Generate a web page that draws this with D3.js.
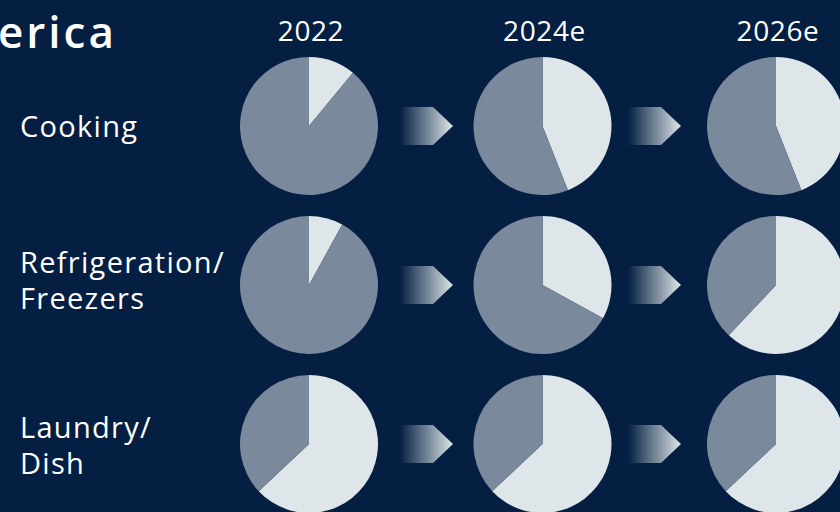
<!DOCTYPE html>
<html>
<head>
<meta charset="utf-8">
<script src="https://cdn.jsdelivr.net/npm/d3@7"></script>
<style>
  html, body { margin: 0; padding: 0; background: #041f42; }
  svg { display: block; }
  text { font-family: "Open Sans", sans-serif; fill: #ffffff; }
</style>
</head>
<body>
<svg id="chart" width="840" height="512"></svg>
<script>
// Share of the connected (light) segment per category and year, in percent
const years = ["2022", "2024e", "2026e"];
const transitions = ["2022→2024e", "2024e→2026e"];
const categories = [["Cooking"], ["Refrigeration/", "Freezers"], ["Laundry/", "Dish"]];
const cooking = [11, 44, 44];
const refrigeration = [8, 33, 62];
const laundry = [63, 63, 63];
const seriesValues = [cooking, refrigeration, laundry];
const title = "North America";

const colors = { bg: "#041f42", light: "#dee6e9", dark: "#7a899b" };

const svg = d3.select("#chart");
const W = 840, H = 512;
svg.append("rect").attr("width", W).attr("height", H).attr("fill", colors.bg);

const x = d3.scalePoint().domain(years).range([309, 776]);
const xArrow = d3.scalePoint().domain(transitions).range([426, 654]);
const y = d3.scalePoint().domain(categories.map(c => c.join(" "))).range([126, 444]);
const radius = 69;
// first-line baseline offset of each row label from the row centre
const labelOffset = [11, -12, -6];
const lineHeight = 36;

// arrow gradient: fades in from the background to the light tone
const defs = svg.append("defs");
const grad = defs.append("linearGradient").attr("id", "arrowGrad")
  .attr("x1", "0%").attr("x2", "100%").attr("y1", "0%").attr("y2", "0%");
grad.append("stop").attr("offset", "0%").attr("stop-color", colors.light).attr("stop-opacity", 0);
grad.append("stop").attr("offset", "100%").attr("stop-color", colors.light).attr("stop-opacity", 1);

// title (runs off the left edge of the panel)
svg.append("text").attr("x", 117).attr("y", 48).attr("text-anchor", "end")
  .attr("font-size", 44).attr("font-weight", 600).attr("letter-spacing", 3).text(title);

// year headers
svg.selectAll("text.year").data(years).join("text").attr("class", "year")
  .attr("x", d => x(d) + 2).attr("y", 41).attr("text-anchor", "middle")
  .attr("font-size", 28).attr("letter-spacing", 0.6).text(d => d);

const pie = d3.pie().sort(null).value(d => d.v);
const arc = d3.arc().innerRadius(0).outerRadius(radius);

categories.forEach((lines, ri) => {
  const key = lines.join(" ");
  const cy = y(key);
  // each line of a row label is its own text element
  lines.forEach((l, i) => {
    svg.append("text").attr("x", 20).attr("y", cy + labelOffset[ri] + i * lineHeight)
      .attr("font-size", 29).attr("letter-spacing", 1.3).text(l);
  });

  years.forEach((yr, ci) => {
    const share = seriesValues[ri][ci];
    const g = svg.append("g").attr("transform", `translate(${x(yr)},${cy})`);
    g.selectAll("path").data(pie([{ v: share, c: colors.light }, { v: 100 - share, c: colors.dark }]))
      .join("path").attr("d", arc).attr("fill", d => d.data.c);
  });

  // arrows between years
  transitions.forEach(t => {
    const mid = xArrow(t);
    const left = mid - 26, body = mid + 7, tip = mid + 27;
    svg.append("path")
      .attr("d", `M${left},${cy - 19}L${body},${cy - 19}L${tip},${cy}L${body},${cy + 19}L${left},${cy + 19}Z`)
      .attr("fill", "url(#arrowGrad)");
  });
});
</script>
</body>
</html>
